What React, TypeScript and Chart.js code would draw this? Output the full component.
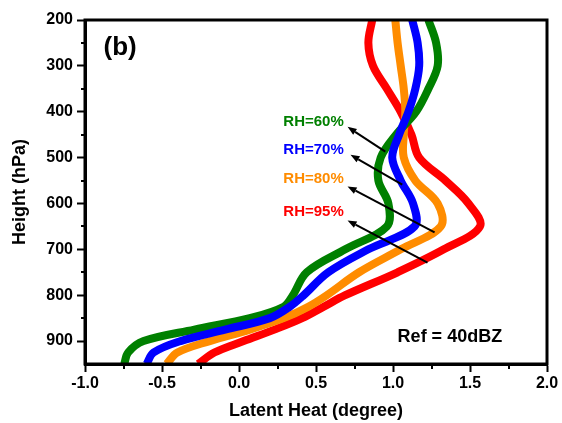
import React, { useEffect, useRef } from 'react';
import { Chart, registerables } from 'chart.js';

Chart.register(...registerables);

// ---- Data ----
const pressureLevels = [200, 250, 300, 350, 400, 450, 500, 550, 600, 650, 700, 750, 800, 825, 850, 875, 900, 925, 950];
const rh95 = [0.865, 0.84, 0.87, 0.96, 1.05, 1.12, 1.17, 1.34, 1.49, 1.565, 1.33, 1.03, 0.69, 0.55, 0.41, 0.23, 0.03, -0.16, -0.265];
const rh80 = [1.015, 1.03, 1.05, 1.07, 1.08, 1.07, 1.07, 1.145, 1.29, 1.31, 1.05, 0.78, 0.57, 0.45, 0.29, 0.07, -0.19, -0.40, -0.47];
const rh70 = [1.125, 1.16, 1.17, 1.145, 1.10, 1.04, 0.995, 1.05, 1.13, 1.14, 0.84, 0.58, 0.42, 0.33, 0.20, -0.09, -0.38, -0.555, -0.60];
const rh60 = [1.23, 1.28, 1.29, 1.23, 1.15, 1.02, 0.92, 0.905, 0.97, 0.96, 0.69, 0.44, 0.35, 0.29, 0.07, -0.29, -0.62, -0.72, -0.745];

const seriesLabels = ['RH=95%', 'RH=80%', 'RH=70%', 'RH=60%'];

const xTicks = [-1.0, -0.5, 0.0, 0.5, 1.0, 1.5, 2.0];
const xMinorTicks = [-0.75, -0.25, 0.25, 0.75, 1.25, 1.75];
const yTicks = [200, 300, 400, 500, 600, 700, 800, 900];
const yMinorTicks = [250, 350, 450, 550, 650, 750, 850];

// annotation anchors (data coordinates), in order RH=95%, 80%, 70%, 60%
const annotLabelX = 0.484;
const annotLabelP = [618, 546, 483, 422];
const arrowTailX = [1.224, 1.27, 1.06, 0.95];
const arrowTailP = [729, 663, 559, 487];
const arrowHeadX = [0.705, 0.705, 0.724, 0.705];
const arrowHeadP = [637, 563, 494, 433];

const panelLabel = '(b)';
const panelLabelX = -0.88;
const panelLabelP = 261;
const refLabel = 'Ref = 40dBZ';
const refLabelX = 1.03;
const refLabelP = 892;

const COLORS = ['#FF0000', '#FF8C00', '#0000FF', '#008000'];
const FONT = '"Liberation Sans", Arial, Helvetica, sans-serif';

const overlayPlugin = {
  id: 'overlay',
  afterDatasetsDraw(chart: any) {
    const { ctx, chartArea, scales } = chart;
    const x = scales.x;
    const y = scales.y;
    ctx.save();
    // frame
    ctx.strokeStyle = '#000';
    ctx.lineWidth = 3;
    ctx.strokeRect(chartArea.left, chartArea.top, chartArea.right - chartArea.left, chartArea.bottom - chartArea.top);
    // minor ticks
    ctx.lineWidth = 2;
    for (const v of yMinorTicks) {
      const py = Math.round(y.getPixelForValue(v));
      ctx.beginPath();
      ctx.moveTo(chartArea.left - 4, py);
      ctx.lineTo(chartArea.left, py);
      ctx.stroke();
    }
    for (const v of xMinorTicks) {
      const px = Math.round(x.getPixelForValue(v));
      ctx.beginPath();
      ctx.moveTo(px, chartArea.bottom);
      ctx.lineTo(px, chartArea.bottom + 5);
      ctx.stroke();
    }
    // arrows
    ctx.strokeStyle = '#000';
    ctx.fillStyle = '#000';
    ctx.lineWidth = 2;
    for (let i = 0; i < arrowTailX.length; i++) {
      const tx = x.getPixelForValue(arrowTailX[i]);
      const ty = y.getPixelForValue(arrowTailP[i]);
      const hx = x.getPixelForValue(arrowHeadX[i]);
      const hy = y.getPixelForValue(arrowHeadP[i]);
      const ang = Math.atan2(hy - ty, hx - tx);
      const len = 9;
      const half = 3.5;
      const bx = hx - len * Math.cos(ang);
      const by = hy - len * Math.sin(ang);
      ctx.beginPath();
      ctx.moveTo(tx, ty);
      ctx.lineTo(bx, by);
      ctx.stroke();
      ctx.beginPath();
      ctx.moveTo(hx, hy);
      ctx.lineTo(bx + half * Math.sin(ang), by - half * Math.cos(ang));
      ctx.lineTo(bx - half * Math.sin(ang), by + half * Math.cos(ang));
      ctx.closePath();
      ctx.fill();
    }
    // series labels
    ctx.font = `bold 15px ${FONT}`;
    ctx.textAlign = 'center';
    ctx.textBaseline = 'middle';
    for (let i = 0; i < seriesLabels.length; i++) {
      ctx.fillStyle = COLORS[i];
      ctx.fillText(seriesLabels[i], x.getPixelForValue(annotLabelX), y.getPixelForValue(annotLabelP[i]));
    }
    // panel label
    ctx.fillStyle = '#000';
    ctx.textAlign = 'left';
    ctx.font = `bold 26px ${FONT}`;
    ctx.fillText(panelLabel, x.getPixelForValue(panelLabelX), y.getPixelForValue(panelLabelP));
    ctx.font = `bold 18px ${FONT}`;
    ctx.fillText(refLabel, x.getPixelForValue(refLabelX), y.getPixelForValue(refLabelP));
    ctx.restore();
  },
};

function makeDataset(values: number[], color: string, label: string, order: number) {
  return {
    label,
    data: values.map((v, i) => ({ x: v, y: pressureLevels[i] })),
    borderColor: color,
    backgroundColor: color,
    borderWidth: 8,
    pointRadius: 0,
    pointHoverRadius: 0,
    showLine: true,
    tension: 0.35,
    fill: false,
    clip: 0,
    order,
    borderCapStyle: 'butt',
    borderJoinStyle: 'round',
  };
}

export default function App() {
  const canvasRef = useRef<HTMLCanvasElement>(null);

  useEffect(() => {
    const canvas = canvasRef.current;
    if (!canvas) return;
    const tickFont = { family: FONT, size: 16, weight: 'bold' as const };
    const titleFont = { family: FONT, size: 18, weight: 'bold' as const };
    const gridOpts = {
      display: true,
      drawOnChartArea: false,
      drawTicks: true,
      tickLength: 8,
      tickWidth: 2,
      tickColor: '#000',
    };
    const chart = new Chart(canvas, {
      type: 'scatter',
      data: {
        datasets: [
          makeDataset(rh95, COLORS[0], seriesLabels[0], 3),
          makeDataset(rh80, COLORS[1], seriesLabels[1], 2),
          makeDataset(rh70, COLORS[2], seriesLabels[2], 0),
          makeDataset(rh60, COLORS[3], seriesLabels[3], 1),
        ] as any,
      },
      options: {
        animation: false,
        responsive: false,
        events: [],
        layout: { padding: { top: 20, right: 15, left: 0, bottom: 0 } },
        plugins: { legend: { display: false }, tooltip: { enabled: false } },
        scales: {
          x: {
            type: 'linear',
            min: -1,
            max: 2,
            afterBuildTicks: (s: any) => {
              s.ticks = xTicks.map((v) => ({ value: v }));
            },
            afterFit: (s: any) => {
              s.height = 59;
            },
            ticks: {
              color: '#000',
              font: tickFont,
              padding: 2,
              maxRotation: 0,
              callback: (v: any) => Number(v).toFixed(1),
            },
            grid: gridOpts,
            border: { display: true, color: '#000', width: 3 },
            title: {
              display: true,
              text: 'Latent Heat (degree)',
              color: '#000',
              font: titleFont,
              padding: { top: 0, bottom: 1 },
            },
          },
          y: {
            type: 'linear',
            reverse: true,
            min: 200,
            max: 950,
            afterBuildTicks: (s: any) => {
              s.ticks = yTicks.map((v) => ({ value: v }));
            },
            afterFit: (s: any) => {
              s.width = 85;
            },
            ticks: {
              color: '#000',
              font: tickFont,
              padding: 4,
              callback: (v: any) => String(v),
            },
            grid: gridOpts,
            border: { display: true, color: '#000', width: 3 },
            title: {
              display: true,
              text: 'Height (hPa)',
              color: '#000',
              font: titleFont,
              padding: { top: 9, bottom: 0 },
            },
          },
        },
      } as any,
      plugins: [overlayPlugin],
    });
    return () => chart.destroy();
  }, []);

  return (
    <div style={{ position: 'absolute', left: 0, top: 0, width: 562, height: 423, background: '#fff' }}>
      <canvas ref={canvasRef} width={562} height={423} style={{ display: 'block', width: 562, height: 423 }} />
    </div>
  );
}
